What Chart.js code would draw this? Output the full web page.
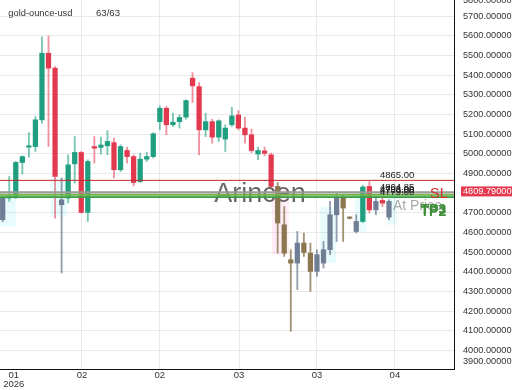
<!DOCTYPE html>
<html>
<head>
<meta charset="utf-8">
<script src="https://cdn.jsdelivr.net/npm/chart.js@4.4.1/dist/chart.umd.min.js"></script>
<style>
  html, body { margin: 0; padding: 0; background: #fff; }
  #wrap { width: 520px; height: 390px; }
</style>
</head>
<body>
<div id="wrap"><canvas id="chart" width="520" height="390"></canvas></div>
<script>
const symbol = 'gold-ounce-usd'
const counter = '63/63'
const lastPrice = 4809.79

// daily candles
const opens = [4665, 4775, 4783, 4956, 5034, 5037, 5173, 5512, 5436, 4741,
  4775, 4949, 5007, 4702, 5037, 5033, 5041, 5057, 4919, 5017,
  4986, 4859, 4973, 4986, 5164, 5232, 5148, 5164, 5187, 5385,
  5342, 5122, 5164, 5085, 5075, 5148, 5198, 5131, 5097, 4999,
  5015, 4995, 4834, 4639, 4461, 4444, 4546, 4495, 4402, 4444,
  4512, 4690, 4775, 4675, 4605, 4656, 4834, 4715, 4763, 4678]
const highs = [4780, 4885, 4962, 4990, 5108, 5190, 5596, 5600, 5444, 4877,
  4995, 5088, 5012, 4970, 5088, 5085, 5118, 5080, 5046, 5034,
  4995, 5004, 5007, 5108, 5244, 5241, 5207, 5198, 5275, 5413,
  5363, 5207, 5176, 5173, 5148, 5237, 5220, 5187, 5126, 5034,
  5034, 5004, 4854, 4732, 4512, 4605, 4597, 4546, 4512, 4554,
  4758, 4800, 4792, 4680, 4690, 4840, 4859, 4783, 4780, 4766]
const lows = [4655, 4758, 4772, 4898, 4983, 5012, 5156, 5037, 4673, 4394,
  4749, 4851, 4699, 4656, 4953, 4999, 4995, 4877, 4910, 4953,
  4837, 4854, 4961, 4978, 5122, 5097, 5139, 5131, 5176, 5261,
  4995, 5088, 5054, 5063, 5012, 5139, 5122, 5054, 5007, 4970,
  4990, 4829, 4495, 4478, 4097, 4309, 4478, 4300, 4376, 4419,
  4487, 4554, 4554, 4668, 4597, 4650, 4699, 4690, 4732, 4665]
const closes = [4775, 4783, 4956, 4986, 5041, 5173, 5512, 5436, 4885, 4766,
  4944, 5007, 4702, 4961, 5029, 5045, 5063, 4919, 5037, 4986,
  4854, 4973, 4986, 5102, 5232, 5148, 5161, 5185, 5271, 5346,
  5122, 5164, 5085, 5168, 5131, 5193, 5131, 5097, 5017, 5017,
  5003, 4834, 4648, 4495, 4444, 4546, 4498, 4402, 4487, 4512,
  4690, 4775, 4724, 4672, 4656, 4831, 4715, 4758, 4749, 4758]

const xTickPos = [1.7, 12.1, 24, 36.1, 48, 59.9]
const xTickLabels = [['01', '2026'], '02', '02', '03', '03', '04']
const yTicks = [3900, 4000, 4100, 4200, 4300, 4400, 4500, 4600, 4700, 4800,
  4900, 5000, 5100, 5200, 5300, 5400, 5500, 5600, 5700, 5800]

// trade levels: SL, entry, take profits
const levelPrices = [4865, 4804, 4793, 4786, 4779]
const levelLabels = ['4865.00', '4804.85', '4793.00', '4786.00', '4779.00']

// faint highlight boxes (candle index / price)
const zoneStart = [-0.5, 7.3, 41.1, 48.5, 53.8, 58.7]
const zoneEnd = [2.0, 9.8, 43.7, 50.9, 55.6, 60.2]
const zoneHigh = [4780, 4880, 4832, 4730, 4807, 4802]
const zoneLow = [4630, 4680, 4486, 4445, 4603, 4639]
const zoneSell = [false, false, true, false, false, false]

// candles drawn in the dimmed palette
const mutedCandles = new Set([0, 9, 42, 43, 44, 45, 46, 47, 48, 49, 50, 51, 52, 53, 54, 57, 59])

const FONT = '"Liberation Sans", Arial, sans-serif'
const Y_MIN = 3905
const Y_MAX = 5783

function candleColor(i, wick) {
  const up = closes[i] >= opens[i]
  if (mutedCandles.has(i)) {
    if (up) return wick ? 'rgba(111,125,145,0.75)' : '#6f7e95'
    return wick ? 'rgba(140,120,82,0.8)' : '#8b7650'
  }
  if (up) return wick ? 'rgba(31,158,128,0.6)' : '#1f9e80'
  return wick ? 'rgba(226,57,79,0.55)' : '#e2394f'
}

const overlay = {
  id: 'overlay',
  beforeDatasetsDraw(chart) {
    const { ctx, chartArea: a, scales: { x, y } } = chart
    ctx.save()
    ctx.beginPath()
    ctx.rect(a.left, a.top, a.right - a.left, a.bottom - a.top)
    ctx.clip()
    zoneStart.forEach((s, i) => {
      const x0 = x.getPixelForValue(s)
      const x1 = x.getPixelForValue(zoneEnd[i])
      const y0 = y.getPixelForValue(zoneHigh[i])
      const y1 = y.getPixelForValue(zoneLow[i])
      ctx.fillStyle = zoneSell[i] ? 'rgba(255,110,190,0.12)' : 'rgba(0,225,240,0.09)'
      ctx.fillRect(x0, y0, x1 - x0, y1 - y0)
    })
    // watermark
    ctx.font = '27px ' + FONT
    ctx.fillStyle = 'rgba(65,65,65,0.8)'
    ctx.textAlign = 'center'
    ctx.textBaseline = 'alphabetic'
    ctx.fillText('Arincen', chart.width / 2, 202)
    ctx.restore()
  },
  afterDatasetsDraw(chart) {
    const { ctx, chartArea: a, scales: { y } } = chart
    const lineColors = ['#c62828', '#9a9a9a', '#7cb342', '#5cb85c', '#3d9a40']
    const lineWidths = [1, 2, 1.5, 1.5, 1.5]
    ctx.save()
    ctx.beginPath()
    ctx.rect(a.left, a.top, a.right - a.left, a.bottom - a.top)
    ctx.clip()
    levelPrices.forEach((p, i) => {
      const py = y.getPixelForValue(p)
      ctx.strokeStyle = lineColors[i]
      ctx.lineWidth = lineWidths[i]
      ctx.beginPath()
      ctx.moveTo(a.left, py)
      ctx.lineTo(a.right, py)
      ctx.stroke()
    })
    ctx.font = '9.5px ' + FONT
    ctx.fillStyle = '#222'
    ctx.textAlign = 'left'
    ctx.textBaseline = 'alphabetic'
    levelPrices.forEach((p, i) => {
      ctx.fillText(levelLabels[i], 380, y.getPixelForValue(p) - 2.5)
    })
    const slY = y.getPixelForValue(levelPrices[1])
    ctx.font = '14px ' + FONT
    ctx.fillStyle = 'rgba(110,110,110,0.6)'
    ctx.fillText('At Price', 393, slY + 18)
    ctx.font = '14.5px ' + FONT
    ctx.fillStyle = '#d32f2f'
    ctx.fillText('SL', 430, slY + 6)
    ctx.font = 'bold 14px ' + FONT
    ctx.fillStyle = '#3f8f3a'
    ctx.fillText('TP3', 420.5, slY + 22)
    ctx.fillText('TP2', 420.5, slY + 23.5)
    ctx.restore()
  },
  afterDraw(chart) {
    const { ctx, chartArea: a, scales: { y } } = chart
    ctx.save()
    ctx.font = '9.2px ' + FONT
    ctx.fillStyle = '#333'
    ctx.textAlign = 'left'
    ctx.textBaseline = 'middle'
    // tick labels that fall outside the value range, pushed to the edges
    yTicks.forEach(v => {
      if (v > Y_MAX) ctx.fillText(v.toFixed(5), a.right + 9, a.top + 0.5)
      if (v < Y_MIN) ctx.fillText(v.toFixed(5), a.right + 9, a.bottom - 7.5)
    })
    const py = y.getPixelForValue(lastPrice)
    ctx.fillStyle = '#e53950'
    ctx.fillRect(a.right + 7, py - 4.8, 51, 10)
    ctx.fillStyle = '#fff'
    ctx.fillText(lastPrice.toFixed(5), a.right + 9, py + 0.3)
    ctx.fillStyle = '#333'
    ctx.font = '9.3px ' + FONT
    ctx.fillText(symbol, 8.3, 13)
    ctx.font = '9.6px ' + FONT
    ctx.fillText(counter, 96, 13)
    ctx.restore()
  }
}

new Chart(document.getElementById('chart'), {
  type: 'bar',
  data: {
    datasets: [{
      label: 'body',
      data: opens.map((o, i) => ({ x: i, y: [o, closes[i]] })),
      backgroundColor: c => candleColor(c.dataIndex, false),
      barThickness: 4.6,
      minBarLength: 1.3,
      borderWidth: 0,
      grouped: false
    }, {
      label: 'wick',
      data: lows.map((l, i) => ({ x: i, y: [l, highs[i]] })),
      backgroundColor: c => candleColor(c.dataIndex, true),
      barThickness: 1.2,
      borderWidth: 0,
      grouped: false
    }]
  },
  options: {
    responsive: false,
    animation: false,
    devicePixelRatio: 1,
    layout: { padding: 0 },
    plugins: {
      legend: { display: false },
      tooltip: { enabled: false }
    },
    scales: {
      x: {
        type: 'linear',
        min: -0.41,
        max: 68.93,
        offset: false,
        afterBuildTicks: s => { s.ticks = xTickPos.map(v => ({ value: v })) },
        afterFit: s => {
          s.height = 21
          s.paddingLeft = 0
          s.paddingRight = 0
        },
        grid: {
          color: c => c.index === 0 ? 'rgba(0,0,0,0)' : '#e9e9e9',
          drawTicks: false,
          offset: false
        },
        border: { color: '#111', width: 1 },
        ticks: {
          callback: (v, i) => xTickLabels[i],
          font: { family: FONT, size: 9.5, lineHeight: 1 },
          color: '#333',
          padding: 1.5,
          maxRotation: 0,
          autoSkip: false
        }
      },
      y: {
        position: 'right',
        min: Y_MIN,
        max: Y_MAX,
        beginAtZero: false,
        afterBuildTicks: s => { s.ticks = yTicks.map(v => ({ value: v })) },
        afterFit: s => {
          s.width = 66
          s.paddingTop = 0
          s.paddingBottom = 0
        },
        grid: { color: '#e9e9e9', drawTicks: false },
        border: { color: '#111', width: 1 },
        ticks: {
          callback: v => (v < Y_MIN || v > Y_MAX) ? '' : Number(v).toFixed(5),
          font: { family: FONT, size: 9.2 },
          color: '#333',
          padding: 9,
          autoSkip: false
        }
      }
    }
  },
  plugins: [overlay]
})
</script>
</body>
</html>
